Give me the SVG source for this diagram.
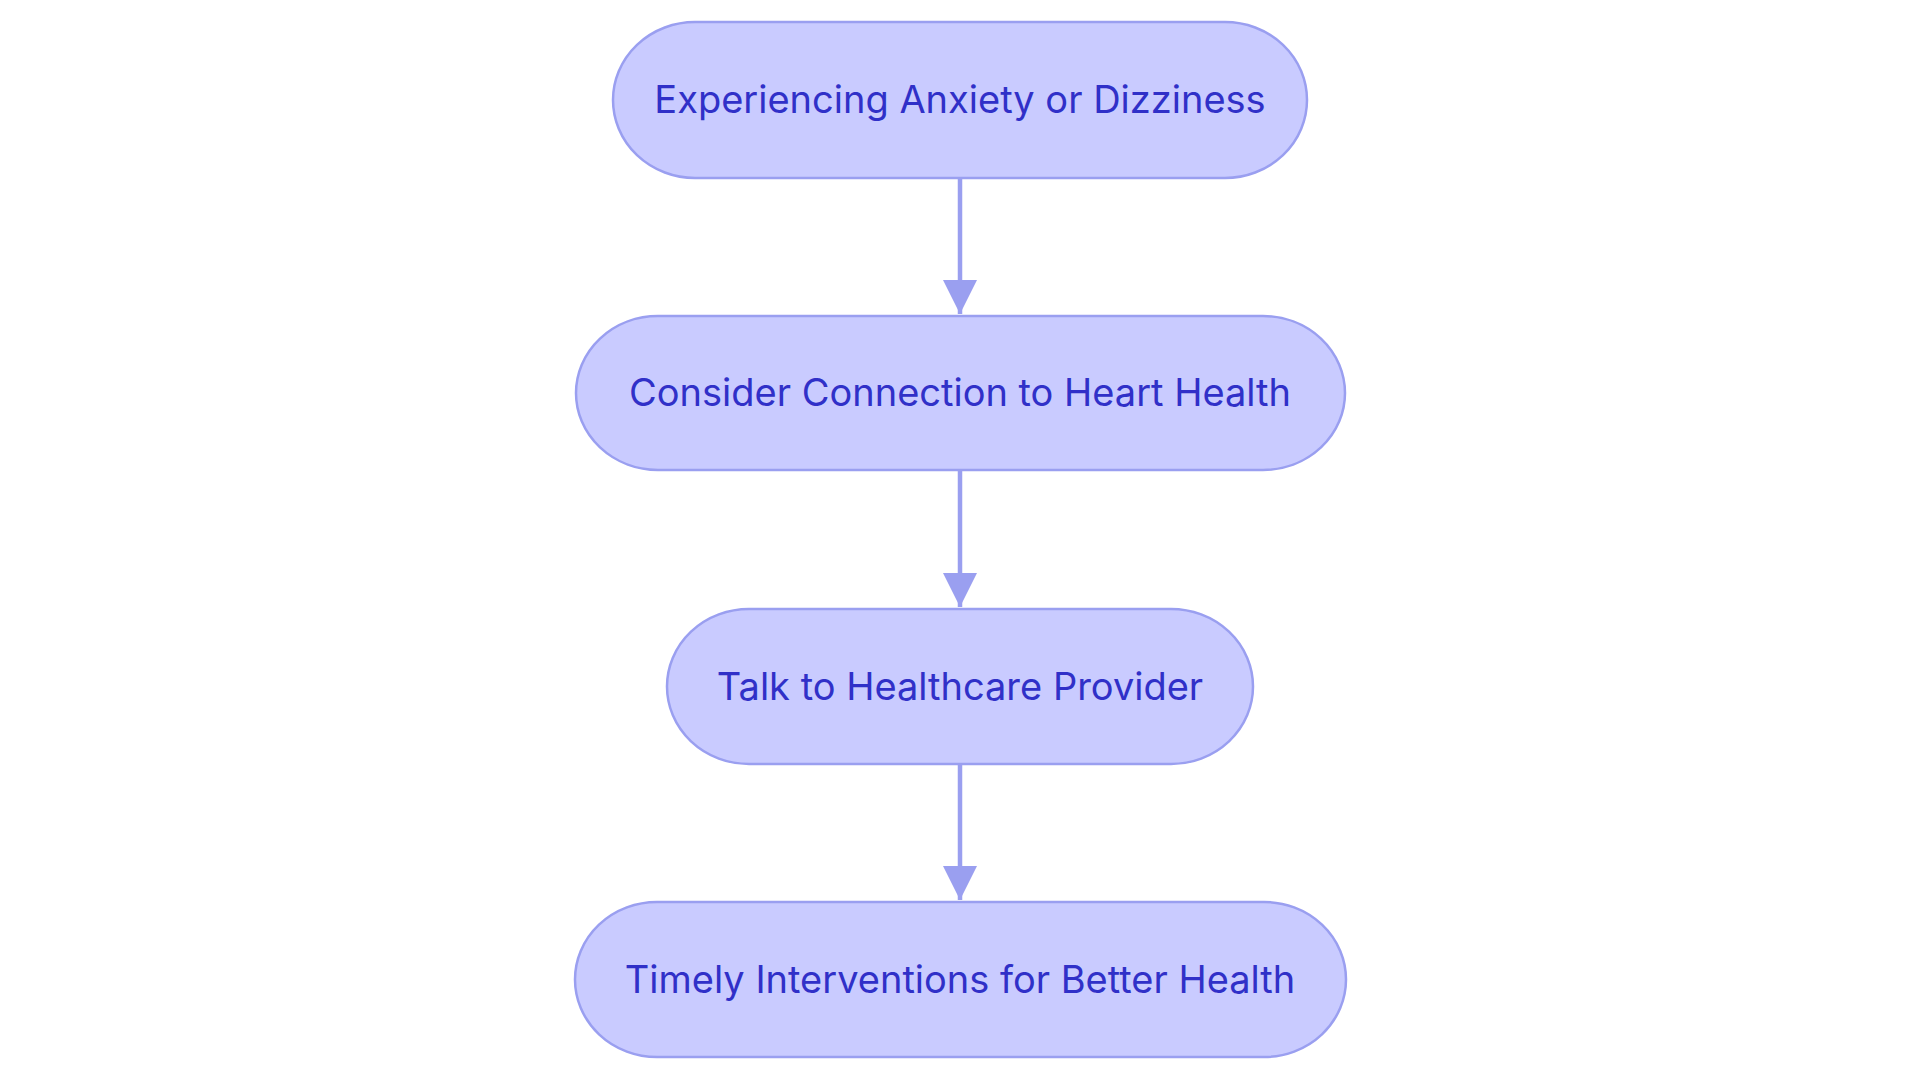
<svg xmlns="http://www.w3.org/2000/svg" width="1920" height="1083" viewBox="0 0 1920 1083">
<style>
.n rect{fill:#c9cbff;stroke:#9a9ff0;stroke-width:2.5}
.n text{font-family:Inter,"Noto Sans",sans-serif;font-size:38px;fill:#3030c8;text-anchor:middle;dominant-baseline:central}
.c line{stroke:#9a9ff0;stroke-width:4.5}
</style>
<defs><marker id="b" viewBox="0 0 10 10" refX="10" refY="5" markerWidth="34" markerHeight="34" markerUnits="userSpaceOnUse" orient="auto"><path d="M0,0L10,5L0,10z" fill="#9a9ff0"/></marker></defs>
<rect width="1920" height="1083" fill="#fff"/>
<g class="c">
<line x1="960" y1="178" x2="960" y2="314" marker-end="url(#b)"/>
<line x1="960" y1="470" x2="960" y2="607" marker-end="url(#b)"/>
<line x1="960" y1="764" x2="960" y2="900" marker-end="url(#b)"/>
</g>
<g class="n" id="n1"><rect x="613" y="22" width="694" height="156" rx="82"/><text x="960" y="99">Experiencing Anxiety or Dizziness</text></g>
<g class="n" id="n2"><rect x="576" y="316" width="769" height="154" rx="82"/><text x="960" y="392">Consider Connection to Heart Health</text></g>
<g class="n" id="n3"><rect x="667" y="609" width="586" height="155" rx="82"/><text x="960" y="686">Talk to Healthcare Provider</text></g>
<g class="n" id="n4"><rect x="575" y="902" width="771" height="155" rx="82"/><text x="960" y="979">Timely Interventions for Better Health</text></g>
</svg>
